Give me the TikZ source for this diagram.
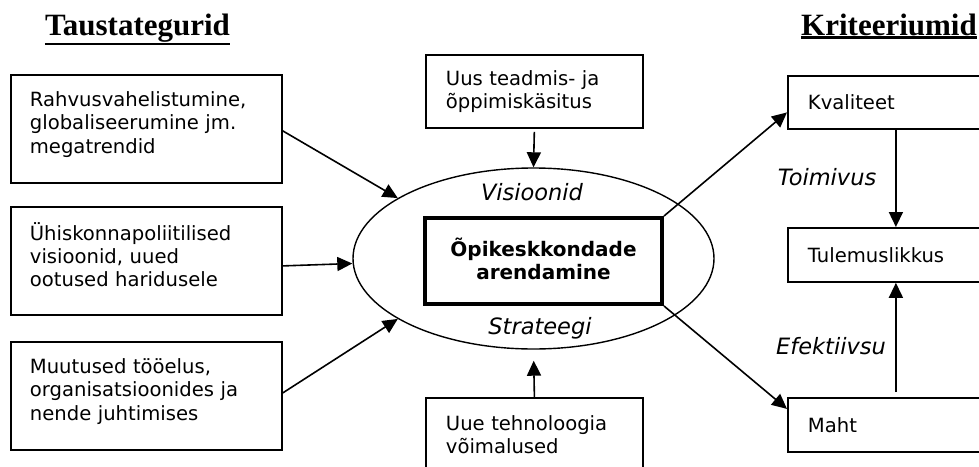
\documentclass[tikz,border=0pt]{standalone}
\usepackage{fontspec}
\setmainfont{DejaVu Sans}
\newfontfamily\titlefont{Liberation Serif}
\usetikzlibrary{arrows.meta,shapes.geometric}
% extra depth on the last line lifts the text a little inside tall boxes
\newcommand\boxlift{\rule[-13pt]{0pt}{0pt}}
\begin{document}
\begin{tikzpicture}[x=1pt,y=-1pt,
  box/.style={draw, line width=1.8pt, anchor=north west, align=left,
    inner xsep=19pt, inner ysep=0pt, font=\fontsize{19.6}{23.3}\selectfont},
  lbl/.style={font=\fontsize{22.5}{26}\selectfont\itshape, inner sep=0pt},
  title/.style={font=\titlefont\bfseries\fontsize{31}{35}\selectfont, inner sep=0pt, anchor=base},
  arr/.style={-{Triangle[length=15pt,width=14pt]}, line width=1.6pt},
]
\clip (0,0) rectangle (979,466);

% headings
\node[title] (ta) at (137.5,35) {Taustategurid};
\node[title] (kr) at (889,35) {Kriteeriumid};
\draw[line width=2.2pt] ([yshift=-2pt]ta.south west) -- ([yshift=-2pt]ta.south east);
\draw[line width=2.2pt] ([yshift=-2pt]kr.south west) -- ([yshift=-2pt]kr.south east);

% background factors
\node[box, minimum height=108, text width=233] (b1) at (10,74)
  {Rahvusvahelistumine,\\globaliseerumine jm.\\megatrendid\boxlift};
\node[box, minimum height=108, text width=233] (b2) at (10,206)
  {Ühiskonnapoliitilised\\visioonid, uued\\ootused haridusele\boxlift};
\node[box, minimum height=108, text width=233] (b3) at (10,341)
  {Muutused tööelus,\\organisatsioonides ja\\nende juhtimises\boxlift};

% centre
\node[ellipse, draw, line width=1.4pt, minimum width=361, minimum height=181, inner sep=0pt]
  (ell) at (533.5,258.5) {};
\node[draw, line width=4pt, minimum width=237, minimum height=86, align=center,
  font=\fontsize{20}{23.3}\selectfont\bfseries] (core) at (543.5,261)
  {Õpikeskkondade\\arendamine\rule[-4pt]{0pt}{0pt}};
\node[lbl] (vis) at (532,192) {Visioonid};
\node[lbl] (str) at (540,328) {Strateegi};

\node[box, minimum height=73, text width=177, inner xsep=20pt] (t1) at (425,54)
  {Uus teadmis- ja\\õppimiskäsitus};
\node[box, minimum height=73, text width=177, inner xsep=20pt] (t2) at (425,397)
  {Uue tehnoloogia\\võimalused};

% criteria
\node[box, minimum height=53, text width=176, inner xsep=20pt] (kv) at (787,75) {Kvaliteet};
\node[box, minimum height=54, text width=176, inner xsep=20pt] (tu) at (787,227) {Tulemuslikkus};
\node[box, minimum height=54, text width=176, inner xsep=20pt] (ma) at (787,397) {Maht};
\node[lbl] (toi) at (827,177) {Toimivus};
\node[lbl] (efe) at (831,346) {Efektiivsu};

% connectors
\draw[arr] ([yshift=-2pt]b1.east) -- (ell.156);
\draw[arr] ([yshift=-5pt]b2.east) -- ([yshift=-5pt]ell.west);
\draw[arr] ([yshift=3pt]b3.east) -- (ell.204);
\draw[arr, shorten <=3pt] (t1.south) -- (ell.north);
\draw[arr, shorten >=11pt] (t2.north) -- (ell.south);
\draw[arr] (core.north east) -- ([yshift=-10pt]kv.west);
\draw[arr] (core.south east) -- ([yshift=16pt]ma.west);
\draw[arr] (kv.south) -- (tu.north);
\draw[arr, shorten <=5pt] (ma.north) -- (tu.south);
\end{tikzpicture}
\end{document}
